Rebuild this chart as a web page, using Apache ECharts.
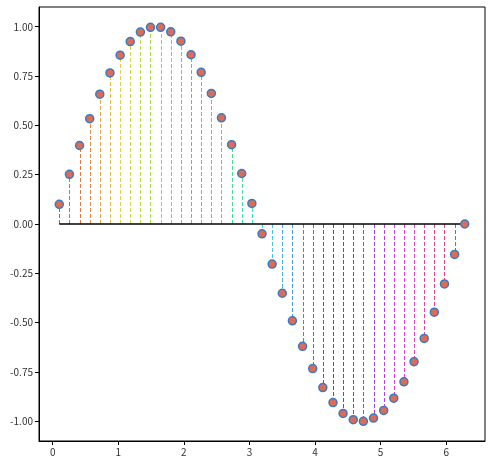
<!DOCTYPE html>
<html>
<head>
<meta charset="utf-8">
<script src="https://cdn.jsdelivr.net/npm/echarts@6/dist/echarts.min.js"></script>
<style>html,body{margin:0;padding:0;background:#fff}#c{width:492px;height:465px}</style>
</head>
<body>
<div id="c"></div>
<script>
var xValues = [0.100,0.255,0.409,0.564,0.718,0.873,1.028,1.182,1.337,1.491,1.646,1.800,1.955,2.110,2.264,2.419,2.573,2.728,2.882,3.037,3.192,3.346,3.501,3.655,3.810,3.965,4.119,4.274,4.428,4.583,4.737,4.892,5.047,5.201,5.356,5.510,5.665,5.819,5.974,6.129,6.283];
var yValues = [0.100,0.252,0.398,0.534,0.658,0.766,0.856,0.925,0.973,0.997,0.997,0.974,0.927,0.858,0.769,0.662,0.538,0.402,0.256,0.104,-0.050,-0.203,-0.351,-0.491,-0.620,-0.733,-0.829,-0.905,-0.960,-0.992,-1.000,-0.984,-0.945,-0.883,-0.800,-0.698,-0.580,-0.447,-0.304,-0.154,0.000];
var xTicks = [0,1,2,3,4,5,6];
var yTicks = [-1.00,-0.75,-0.50,-0.25,0.00,0.25,0.50,0.75,1.00];

var n = xValues.length;
function stemColor(i){
  var h = ((i / n) + 0.01) * 360;
  return 'hsl(' + h.toFixed(1) + ',68%,57%)';
}
var pts = xValues.map(function(x,i){return [x, yValues[i]];});
var font = '"Noto Sans CJK KR", "Noto Sans", sans-serif';
var chart = echarts.init(document.getElementById('c'));
chart.setOption({
  animation:false,
  grid:{left:39,right:7,top:7,bottom:24,show:true,borderColor:'#000',borderWidth:1,backgroundColor:'transparent'},
  xAxis:{type:'value',min:-0.209,max:6.592,
    axisLine:{show:true,onZero:false,lineStyle:{color:'#000',width:1}},
    axisTick:{show:true,length:4,customValues:xTicks,lineStyle:{color:'#000'}},
    axisLabel:{customValues:xTicks,color:'#333',fontFamily:font,fontSize:10,margin:6,formatter:function(v){return String(v);}},
    splitLine:{show:false}},
  yAxis:{type:'value',min:-1.1,max:1.1,
    axisLine:{show:true,onZero:false,lineStyle:{color:'#000',width:1}},
    axisTick:{show:true,length:4,customValues:yTicks,lineStyle:{color:'#000'}},
    axisLabel:{customValues:yTicks,color:'#333',fontFamily:font,fontSize:10,margin:6,formatter:function(v){return v.toFixed(2);}},
    splitLine:{show:false}},
  series:[
    {type:'custom',data:pts,z:1,
      renderItem:function(params,api){
        var x=api.value(0), y=api.value(1);
        var p0=api.coord([x,0]), p1=api.coord([x,y]);
        var px=Math.round(p0[0])+0.5;
        return {type:'line',shape:{x1:px,y1:p0[1],x2:px,y2:p1[1]},
          style:{stroke:stemColor(params.dataIndex),lineWidth:1,lineDash:[4,2]}};
      }},
    {type:'line',data:[[xValues[0],0],[xValues[n-1],0]],showSymbol:false,z:2,
      lineStyle:{color:'#000',width:1.5}},
    {type:'scatter',data:pts,symbol:'circle',symbolSize:8,z:3,
      itemStyle:{color:'#dd6b56',borderColor:'#3a7bbf',borderWidth:1.5,opacity:1}}
  ]
});
</script>
</body>
</html>
